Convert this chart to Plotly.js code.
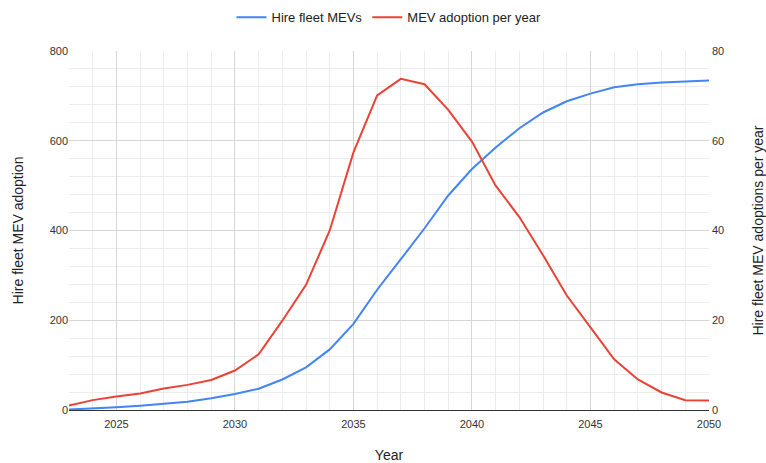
<!DOCTYPE html>
<html>
<head>
<meta charset="utf-8">
<script src="https://cdn.plot.ly/plotly-3.0.1.min.js"></script>
<style>html,body{margin:0;padding:0;background:#fff;}#chart{width:766px;height:463px;}</style>
</head>
<body>
<div id="chart"></div>
<script>
const years = [2023,2024,2025,2026,2027,2028,2029,2030,2031,2032,2033,2034,2035,2036,2037,2038,2039,2040,2041,2042,2043,2044,2045,2046,2047,2048,2049,2050];
const hireFleetMEVs = [1,3,6,9.6,13.4,18.6,26,35.5,47.5,68,95,135,192,268,336,405,478,537,585,628,663,688,705,719,726,730,732,734];
const mevAdoptionPerYear = [1,2.2,3,3.7,4.8,5.6,6.7,8.8,12.4,19.9,27.9,40,57.4,70.1,73.8,72.6,66.9,59.8,50,43,34.5,25.5,18.4,11.3,6.8,3.9,2.2,2.1];
const leftTicks = [0,200,400,600,800];
const rightTicks = [0,20,40,60,80];
const xTicks = [2025,2030,2035,2040,2045,2050];

const font = {family:'"Liberation Sans", Arial, sans-serif', color:'#222'};
const traces = [
  {x:years, y:hireFleetMEVs, name:'Hire fleet MEVs', type:'scatter', mode:'lines',
   line:{color:'#4285f4', width:2}, yaxis:'y'},
  {x:years, y:mevAdoptionPerYear, name:'MEV adoption per year', type:'scatter', mode:'lines',
   line:{color:'#ea4335', width:2}, yaxis:'y2'}
];
const layout = {
  width:766, height:463,
  margin:{l:69, r:57, t:51, b:53},
  paper_bgcolor:'#fff', plot_bgcolor:'#fff',
  font:Object.assign({size:11}, font),
  showlegend:true,
  legend:{orientation:'h', x:0.5, xanchor:'center', y:0.995, yref:'container', yanchor:'top',
          font:{size:13, family:font.family, color:'#222'}, traceorder:'normal', itemwidth:30},
  xaxis:{range:[2023,2050], tickvals:xTicks, ticktext:xTicks.map(String),
         showgrid:true, gridcolor:'#d6d6d6', gridwidth:1,
         minor:{dtick:1, tick0:2023, showgrid:true, gridcolor:'#ececec', gridwidth:1},
         showline:true, linecolor:'#333', linewidth:1, zeroline:false,
         ticks:'', ticklabelstandoff:4, tickfont:{size:11, color:'#333'},
         title:{text:'Year', font:{size:14, color:'#222'}, standoff:20}},
  yaxis:{range:[0,800], tickvals:leftTicks, ticktext:leftTicks.map(String),
         showgrid:true, gridcolor:'#d6d6d6', gridwidth:1,
         minor:{dtick:40, tick0:0, showgrid:true, gridcolor:'#ececec', gridwidth:1},
         zeroline:false, showline:false, ticks:'', tickfont:{size:11, color:'#333'},
         title:{text:'Hire fleet MEV adoption', font:{size:14, color:'#222'}, standoff:22}},
  yaxis2:{range:[0,80], tickvals:rightTicks, ticktext:rightTicks.map(String),
          overlaying:'y', side:'right', showgrid:false, zeroline:false, showline:false,
          ticks:'', ticklabelstandoff:2, tickfont:{size:11, color:'#333'},
          title:{text:'Hire fleet MEV adoptions per year', font:{size:14, color:'#222'}, standoff:32}}
};
Plotly.newPlot('chart', traces, layout, {displayModeBar:false, staticPlot:true});
</script>
</body>
</html>
